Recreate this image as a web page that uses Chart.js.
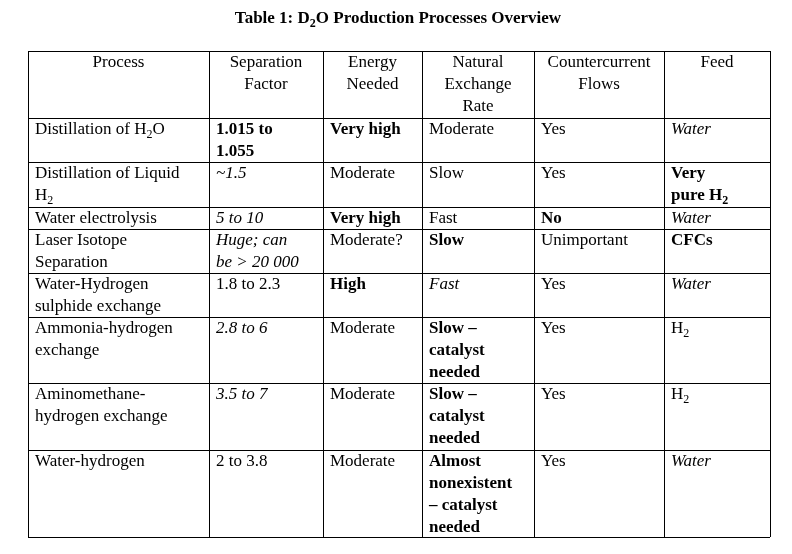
<!DOCTYPE html>
<html><head><meta charset="utf-8">
<script src="https://cdn.jsdelivr.net/npm/chart.js@4"></script>
<style>html,body{margin:0;background:#fff}#wrap{width:792px;height:554px}</style>
</head><body><div id="wrap"><canvas id="c"></canvas></div>
<script>
// Table content: one array per column, "*" bold, "/" italic prefix, {x} = subscript
const title = 'Table 1: D{2}O Production Processes Overview';
const headers = ['Process', 'Separation\nFactor', 'Energy\nNeeded', 'Natural\nExchange\nRate', 'Countercurrent\nFlows', 'Feed'];
const processes = ['Distillation of H{2}O', 'Distillation of Liquid\nH{2}', 'Water electrolysis', 'Laser Isotope\nSeparation', 'Water-Hydrogen\nsulphide exchange', 'Ammonia-hydrogen\nexchange', 'Aminomethane-\nhydrogen exchange', 'Water-hydrogen'];
const separationFactors = ['*1.015 to\n1.055', '/~1.5', '/5 to 10', '/Huge; can\nbe > 20 000', '1.8 to 2.3', '/2.8 to 6', '/3.5 to 7', '2 to 3.8'];
const energyNeeded = ['*Very high', 'Moderate', '*Very high', 'Moderate?', '*High', 'Moderate', 'Moderate', 'Moderate'];
const exchangeRates = ['Moderate', 'Slow', 'Fast', '*Slow', '/Fast', '*Slow –\ncatalyst\nneeded', '*Slow –\ncatalyst\nneeded', '*Almost\nnonexistent\n– catalyst\nneeded'];
const counterFlows = ['Yes', 'Yes', '*No', 'Unimportant', 'Yes', 'Yes', 'Yes', 'Yes'];
const feeds = ['/Water', '*Very\npure H{2}', '/Water', '*CFCs', '/Water', 'H{2}', 'H{2}', '/Water'];

// layout
const colX = [28, 209, 323, 422, 534, 664, 770];
const rowY = [51, 118, 162, 207, 229, 273, 317, 383, 450, 537];
const LH = 22;

const columns = [processes, separationFactors, energyNeeded, exchangeRates, counterFlows, feeds];

function drawRich(ctx, str, x, y, style, align) {
  const base = 17;
  const fam = '"Liberation Serif", "Times New Roman", serif';
  const parts = str.split(/(\{[^}]*\})/).filter(s => s.length);
  const fontFor = (sub) => (style === '/' ? 'italic ' : '') + (style === '*' ? 'bold ' : '') + (sub ? 12 : base) + 'px ' + fam;
  let w = 0;
  parts.forEach(p => { const sub = p[0] === '{'; ctx.font = fontFor(sub); w += ctx.measureText(sub ? p.slice(1, -1) : p).width; });
  let cx = align === 'center' ? x - w / 2 : x;
  ctx.textAlign = 'left';
  ctx.textBaseline = 'middle';
  parts.forEach(p => {
    const sub = p[0] === '{';
    const t = sub ? p.slice(1, -1) : p;
    ctx.font = fontFor(sub);
    ctx.fillText(t, cx, sub ? y + 5 : y);
    cx += ctx.measureText(t).width;
  });
}

function drawCell(ctx, text, x, y, align) {
  let style = '';
  if (text[0] === '*' || text[0] === '/') { style = text[0]; text = text.slice(1); }
  text.split('\n').forEach((ln, i) => drawRich(ctx, ln, x, y + i * LH, style, align));
}

const tablePlugin = {
  id: 'table',
  afterDraw(chart) {
    const ctx = chart.ctx, xs = chart.scales.x, ys = chart.scales.y;
    const X = v => xs.getPixelForValue(v), Y = v => ys.getPixelForValue(v);
    ctx.save();
    ctx.fillStyle = '#000';
    drawRich(ctx, title, X(398), Y(19), '*', 'center');
    ctx.strokeStyle = '#000';
    ctx.lineWidth = 1;
    ctx.beginPath();
    colX.forEach(c => { ctx.moveTo(X(c) + 0.5, Y(rowY[0])); ctx.lineTo(X(c) + 0.5, Y(rowY[rowY.length - 1])); });
    rowY.forEach(r => { ctx.moveTo(X(colX[0]), Y(r) + 0.5); ctx.lineTo(X(colX[colX.length - 1]), Y(r) + 0.5); });
    ctx.stroke();
    headers.forEach((h, i) => drawCell(ctx, h, X((colX[i] + colX[i + 1]) / 2), Y(rowY[0] + 12), 'center'));
    columns.forEach((col, i) => col.forEach((t, r) => drawCell(ctx, t, X(colX[i] + 7), Y(rowY[r + 1] + 12), 'left')));
    ctx.restore();
  }
};

new Chart(document.getElementById('c'), {
  type: 'scatter',
  data: { datasets: [] },
  options: {
    responsive: true, maintainAspectRatio: false, animation: false,
    layout: { padding: 0 },
    plugins: { legend: { display: false }, tooltip: { enabled: false } },
    scales: {
      x: { type: 'linear', min: 0, max: 792, display: false },
      y: { type: 'linear', min: 0, max: 554, reverse: true, display: false }
    }
  },
  plugins: [tablePlugin]
});
</script></body></html>
